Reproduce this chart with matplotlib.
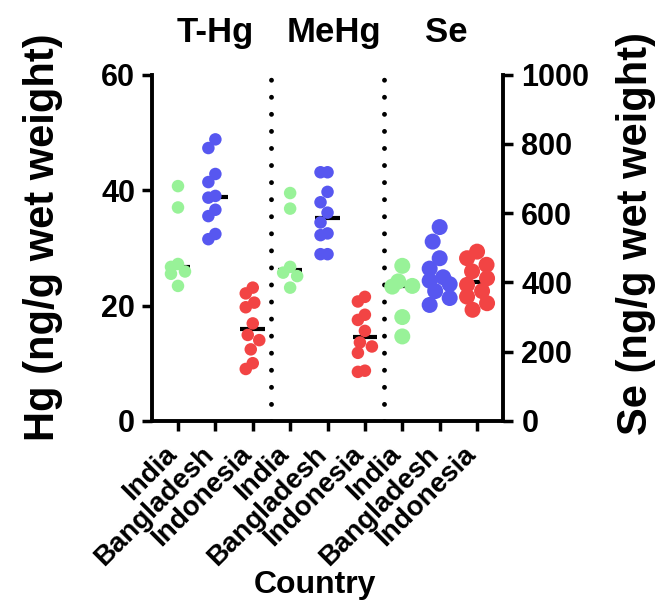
import numpy as np
import matplotlib
matplotlib.use('Agg')
import matplotlib.pyplot as plt

plt.rcParams['font.family'] = ['Liberation Sans', 'DejaVu Sans']
plt.rcParams['font.weight'] = 'bold'

countries = ['India', 'Bangladesh', 'Indonesia']
analytes = ['T-Hg', 'MeHg', 'Se']
colors = ['#98f298', '#5757f0', '#f24444']

thg_india = [40.7, 37.0, 27.2, 26.7, 25.9, 25.5, 23.4]
thg_bangladesh = [48.8, 47.3, 42.8, 41.4, 39.0, 38.7, 36.6, 35.5, 32.4, 31.5]
thg_indonesia = [23.1, 22.1, 20.5, 19.7, 16.9, 14.9, 14.0, 12.4, 10.0, 9.0]
mehg_india = [39.5, 36.8, 26.7, 25.7, 25.1, 23.1]
mehg_bangladesh = [43.1, 43.1, 39.7, 37.9, 36.1, 34.4, 32.5, 32.2, 28.9, 28.9]
mehg_indonesia = [21.5, 20.7, 18.4, 17.5, 15.6, 13.6, 12.9, 11.8, 8.7, 8.5]
se_india = [448, 403, 390, 388, 300, 244]
se_bangladesh = [560, 518, 470, 440, 415, 405, 395, 375, 355, 335]
se_indonesia = [489, 470, 451, 432, 412, 393, 375, 359, 340, 321]

hg_groups = [thg_india, thg_bangladesh, thg_indonesia,
             mehg_india, mehg_bangladesh, mehg_indonesia]
se_groups = [se_india, se_bangladesh, se_indonesia]

fig = plt.figure(figsize=(6.63, 6.03), dpi=100)
ax = fig.add_axes([0.229, 0.302, 0.53, 0.574])
ax.set_xlim(-0.7, 8.7)
ax.set_ylim(0, 60)
ax2 = ax.twinx()
ax2.set_ylim(0, 1000)
ax2.set_xlim(-0.7, 8.7)


def swarm_offsets(axis, values, diam_px, width_px):
    """Place points in a limited-width swarm (pixel space), return x offsets in data units."""
    trans = axis.transData
    px_per_x = trans.transform((1, 0))[0] - trans.transform((0, 0))[0]
    ys = [trans.transform((0, v))[1] for v in values]
    order = np.argsort(-np.asarray(values))
    placed = []
    offs = np.zeros(len(values))
    cands = np.arange(-width_px, width_px + 0.01, 0.5)
    for i in order:
        best, best_cost = 0.0, None
        for c in sorted(cands, key=abs):
            cost = 0.0
            for (px, py) in placed:
                d = np.hypot(c - px, ys[i] - py)
                cost += max(0.0, diam_px - d)
            if best_cost is None or cost < best_cost - 1e-9:
                best, best_cost = c, cost
        placed.append((best, ys[i]))
        offs[i] = best / px_per_x
    return offs


d_hg = 12.5
d_se = 16.0
for k, vals in enumerate(hg_groups):
    col = colors[k % 3]
    off = swarm_offsets(ax, vals, d_hg, 7)
    ax.hlines(np.median(vals), k - 0.33, k + 0.33, color='black', lw=3.0, zorder=2)
    ax.scatter(k + off, vals, s=(d_hg * 0.72) ** 2, color=col, edgecolors='none', zorder=3)

for k, vals in enumerate(se_groups):
    pos = 6 + k
    off = swarm_offsets(ax2, vals, d_se, 10)
    ax2.hlines(np.median(vals), pos - 0.33, pos + 0.33, color='black', lw=3.0, zorder=2)
    ax2.scatter(pos + off, vals, s=(d_se * 0.72) ** 2, color=colors[k], edgecolors='none', zorder=3)

for xv in (2.5, 5.5):
    ax.plot([xv, xv], [0, 60], color='black', lw=3.5, linestyle=(0, (0.01, 3.5)),
            dash_capstyle='round', zorder=1)

ax.set_xticks(range(9))
ax.set_xticklabels(countries * 3, rotation=45, ha='right', va='baseline',
                   rotation_mode='anchor', fontsize=20, fontweight='bold')
ax.set_yticks([0, 20, 40, 60])
ax.set_yticklabels(['0', '20', '40', '60'], fontsize=22, fontweight='bold')
ax2.set_yticks([0, 200, 400, 600, 800, 1000])
ax2.set_yticklabels(['0', '200', '400', '600', '800', '1000'], fontsize=22, fontweight='bold')

for a in (ax, ax2):
    a.spines['top'].set_visible(False)
    for s in a.spines.values():
        s.set_linewidth(2.8)
    a.tick_params(width=2.5, length=7, direction='out')
ax.spines['right'].set_visible(False)
ax2.spines['left'].set_visible(False)
ax2.spines['bottom'].set_visible(False)
ax.tick_params(axis='x', pad=18)
ax.tick_params(axis='y', pad=5)
ax2.tick_params(axis='y', pad=6)

ax.set_ylabel('Hg (ng/g wet weight)', fontsize=30, fontweight='bold')
ax.yaxis.set_label_coords(-0.254, 0.53)
ax2.set_ylabel('Se (ng/g wet weight)', fontsize=30, fontweight='bold')
ax2.yaxis.set_label_coords(1.322, 0.54)
ax.set_xlabel('Country', fontsize=23, fontweight='bold')
ax.xaxis.set_label_coords(0.464, -0.43)

title_pos = [1.0, 4.18, 7.18]
for k, name in enumerate(analytes):
    ax.text(title_pos[k], 1.095, name, transform=ax.get_xaxis_transform(), ha='center',
            va='baseline', fontsize=25, fontweight='bold')

fig.savefig('out.png', dpi=100)
